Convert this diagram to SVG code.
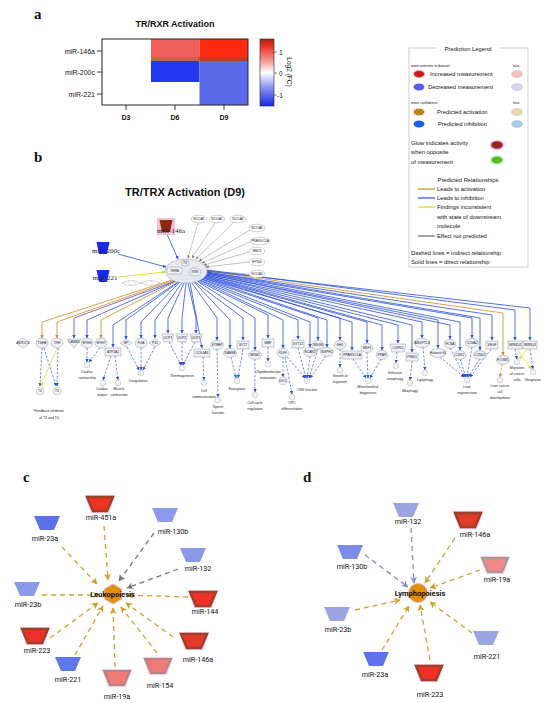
<svg xmlns="http://www.w3.org/2000/svg" width="550" height="703" viewBox="0 0 550 703">
<defs>
<style>
text{font-family:"Liberation Sans",Arial,sans-serif;fill:#111}
.pl{font-family:"Liberation Serif","Times New Roman",serif;font-weight:bold;font-size:15px}
.ax{font-size:7px;text-anchor:end}
.cl{font-size:7px;font-weight:bold;text-anchor:middle}
.lg{font-size:5.8px}
.ls{font-size:3.6px}
.n{fill:#eef1f7;stroke:#8a8a8a;stroke-width:0.45}
.sat{fill:#fff;stroke:#999;stroke-width:0.45}
.g{font-size:3.3px;text-anchor:middle;fill:#222}
.o{font-size:3.5px;text-anchor:middle;fill:#222}
.oc{fill:#f2f4f8;stroke:#999;stroke-width:0.4}
.eb{fill:none;stroke:#2a4ee0;stroke-width:0.8;marker-end:url(#ab)}
.eo{fill:none;stroke:#d08a20;stroke-width:0.8;marker-end:url(#ao)}
.ey{fill:none;stroke:#d8d820;stroke-width:0.8;marker-end:url(#ay)}
.eg{fill:none;stroke:#888;stroke-width:0.5;marker-end:url(#ag)}
.db{fill:none;stroke:#3a5ae0;stroke-width:0.7;stroke-dasharray:2.5 1.5;marker-end:url(#ab)}
.do{fill:none;stroke:#d08a20;stroke-width:0.7;stroke-dasharray:2.5 1.5;marker-end:url(#ao)}
.dy{fill:none;stroke:#d8d820;stroke-width:0.7;marker-end:url(#ay)}
.cd{fill:none;stroke:#d0a030;stroke-width:1.3;stroke-dasharray:5 4;marker-end:url(#ac)}
.cg{fill:none;stroke:#777;stroke-width:1.3;stroke-dasharray:5 4;marker-end:url(#acg)}
.cb{fill:none;stroke:#8090c8;stroke-width:1.3;stroke-dasharray:5 4;marker-end:url(#acb)}
.ml{font-family:Roboto,"Liberation Sans",Arial,sans-serif;font-size:7.2px;text-anchor:middle}
.ctr{font-family:Roboto,"Liberation Sans",Arial,sans-serif;font-size:7.5px;font-weight:bold;text-anchor:middle}
.bm{font-family:"Liberation Serif","Times New Roman",serif;font-size:7px;text-anchor:middle;fill:#222}
</style>
<marker id="ab" viewBox="0 0 10 10" refX="9" refY="5" markerWidth="3.5" markerHeight="3.5" markerUnits="userSpaceOnUse" orient="auto"><path d="M0,0L10,5L0,10z" fill="#2a4ee0"/></marker>
<marker id="ao" viewBox="0 0 10 10" refX="9" refY="5" markerWidth="3.5" markerHeight="3.5" markerUnits="userSpaceOnUse" orient="auto"><path d="M0,0L10,5L0,10z" fill="#d08a20"/></marker>
<marker id="ay" viewBox="0 0 10 10" refX="9" refY="5" markerWidth="3.5" markerHeight="3.5" markerUnits="userSpaceOnUse" orient="auto"><path d="M0,0L10,5L0,10z" fill="#d8d820"/></marker>
<marker id="ag" viewBox="0 0 10 10" refX="9" refY="5" markerWidth="3" markerHeight="3" markerUnits="userSpaceOnUse" orient="auto"><path d="M0,0L10,5L0,10z" fill="#777"/></marker>
<marker id="ac" viewBox="0 0 10 10" refX="9" refY="5" markerWidth="7" markerHeight="7" markerUnits="userSpaceOnUse" orient="auto"><path d="M0,0L10,5L0,10L3,5z" fill="#d0a030"/></marker>
<marker id="acg" viewBox="0 0 10 10" refX="9" refY="5" markerWidth="7" markerHeight="7" markerUnits="userSpaceOnUse" orient="auto"><path d="M0,0L10,5L0,10L3,5z" fill="#777"/></marker>
<marker id="acb" viewBox="0 0 10 10" refX="9" refY="5" markerWidth="7" markerHeight="7" markerUnits="userSpaceOnUse" orient="auto"><path d="M0,0L10,5L0,10L3,5z" fill="#8090c8"/></marker>
<linearGradient id="cbar" x1="0" y1="0" x2="0" y2="1">
<stop offset="0" stop-color="#a02818"/><stop offset="0.1" stop-color="#e83020"/><stop offset="0.3" stop-color="#f08a84"/><stop offset="0.5" stop-color="#ffffff"/><stop offset="0.72" stop-color="#8a96f0"/><stop offset="1" stop-color="#1a28e0"/>
</linearGradient>
<path id="trap" d="M-13,-7H13L7,7H-7Z"/>
<path id="glow" d="M-15,-9H15L9,9H-9Z"/>
<path id="strap" d="M-6.5,-6H6.5L4,6H-4Z"/>
</defs>
<rect width="550" height="703" fill="#fff"/>

<!-- Panel a -->
<g id="panel-a">
<text class="pl" x="34" y="19">a</text>
<text x="175" y="27" font-size="9" font-weight="bold" text-anchor="middle">TR/RXR Activation</text>
<rect x="102" y="39" width="49" height="22" fill="#fff"/>
<rect x="151" y="39" width="48.5" height="22" fill="#f0605a"/>
<rect x="199.5" y="39" width="48.5" height="22" fill="#fd2a10"/>
<rect x="151" y="57" width="48.5" height="4" fill="#b86a50"/>
<rect x="199.5" y="57" width="48.5" height="4" fill="#b84020"/>
<rect x="151" y="61" width="48.5" height="21" fill="#2238f0"/>
<rect x="199.5" y="61" width="48.5" height="21" fill="#5a6ae8"/>
<rect x="199.5" y="82" width="48.5" height="23" fill="#5a6ae8"/>
<rect x="102" y="39" width="146" height="66" fill="none" stroke="#222" stroke-width="1"/>
<g stroke="#222" stroke-width="0.9">
<line x1="97" y1="51" x2="102" y2="51"/><line x1="97" y1="72" x2="102" y2="72"/><line x1="97" y1="94" x2="102" y2="94"/>
<line x1="126" y1="105" x2="126" y2="110"/><line x1="175" y1="105" x2="175" y2="110"/><line x1="224" y1="105" x2="224" y2="110"/>
</g>
<text class="ax" x="95" y="53.5">miR-146a</text>
<text class="ax" x="95" y="74.5">miR-200c</text>
<text class="ax" x="95" y="96.5">miR-221</text>
<text class="cl" x="126" y="120">D3</text>
<text class="cl" x="175" y="120">D6</text>
<text class="cl" x="224" y="120">D9</text>
<rect x="260" y="39" width="14" height="67" fill="url(#cbar)" stroke="#222" stroke-width="0.6"/>
<g stroke="#222" stroke-width="0.6"><line x1="274" y1="52" x2="277" y2="52"/><line x1="274" y1="73" x2="277" y2="73"/><line x1="274" y1="95" x2="277" y2="95"/></g>
<text x="279" y="54.5" font-size="6.5">1</text>
<text x="279" y="75.5" font-size="6.5">0</text>
<text x="277" y="97.5" font-size="6.5">-1</text>
<text x="287" y="72" font-size="6.5" text-anchor="middle" transform="rotate(90 287 72)">Log2 (FC)</text>
</g>

<!-- Legend -->
<g id="legend">
<rect x="409" y="48" width="119" height="219" fill="#fff" stroke="#aaa" stroke-width="0.6"/>
<rect x="437" y="45" width="62" height="6" fill="#fff"/>
<text class="lg" x="468" y="50.5" text-anchor="middle">Prediction Legend</text>
<text class="ls" x="411" y="66.5">more extreme in dataset</text>
<text class="ls" x="513" y="66.5">less</text>
<ellipse cx="419" cy="74" rx="5.5" ry="3.5" fill="#d01818" stroke="#f0a0c0" stroke-width="0.8"/>
<text class="lg" x="430" y="76">Increased measurement</text>
<ellipse cx="517" cy="74" rx="5.5" ry="3.5" fill="#f2c4c0" stroke="#999" stroke-width="0.3"/>
<ellipse cx="419" cy="87" rx="5.5" ry="3.5" fill="#5a5ae8"/>
<text class="lg" x="428" y="89">Decreased measurement</text>
<ellipse cx="517" cy="87" rx="5.5" ry="3.5" fill="#d4d4f4" stroke="#999" stroke-width="0.3"/>
<text class="ls" x="411" y="104">more confidence</text>
<text class="ls" x="513" y="104">less</text>
<ellipse cx="419" cy="112" rx="5.5" ry="3.5" fill="#b8861a"/>
<text class="lg" x="437" y="114">Predicted activation</text>
<ellipse cx="517" cy="112" rx="5.5" ry="3.5" fill="#e8d8a8" stroke="#999" stroke-width="0.3"/>
<ellipse cx="419" cy="124" rx="5.5" ry="3.5" fill="#1a5ef0"/>
<text class="lg" x="438" y="126">Predicted inhibition</text>
<ellipse cx="517" cy="124" rx="5.5" ry="3.5" fill="#a8ccf0" stroke="#999" stroke-width="0.3"/>
<text class="lg" x="411" y="145">Glow indicates activity</text>
<text class="lg" x="411" y="154">when opposite</text>
<text class="lg" x="411" y="163.5">of measurement</text>
<ellipse cx="497" cy="145" rx="6" ry="4" fill="#8a2a10" stroke="#f060c0" stroke-width="1.2"/>
<ellipse cx="497" cy="160" rx="6" ry="4" fill="#60b820" stroke="#a0f0c0" stroke-width="1.2"/>
<text class="lg" x="468" y="182" text-anchor="middle">Predicted Relationships</text>
<line x1="418" y1="189" x2="435" y2="189" stroke="#d08a20" stroke-width="1.2"/>
<text class="lg" x="437" y="191">Leads to activation</text>
<line x1="418" y1="198" x2="435" y2="198" stroke="#2a4ee0" stroke-width="1.2"/>
<text class="lg" x="437" y="200">Leads to inhibition</text>
<line x1="418" y1="207" x2="435" y2="207" stroke="#d8d820" stroke-width="1.2"/>
<text class="lg" x="437" y="209">Findings inconsistent</text>
<text class="lg" x="437" y="218.5">with state of downstream</text>
<text class="lg" x="437" y="228">molecule</text>
<line x1="418" y1="236" x2="435" y2="236" stroke="#666" stroke-width="1.2"/>
<text class="lg" x="437" y="238">Effect not predicted</text>
<text class="lg" x="411" y="255">Dashed lines = indirect relationship</text>
<text class="lg" x="411" y="264">Solid lines = direct relationship</text>
</g>

<!-- Panel b -->
<text class="pl" x="34" y="162">b</text>
<text x="185" y="196" font-size="11" font-weight="bold" text-anchor="middle">TR/TRX Activation (D9)</text>

<g id="connectors-b">
<line class="eb" x1="166" y1="232" x2="178" y2="259"/>
<line class="eb" x1="118" y1="254" x2="166" y2="267"/>
<line class="ey" x1="118" y1="277" x2="165" y2="272"/>
<line class="eg" x1="198" y1="223" x2="188" y2="258"/>
<line class="eg" x1="215" y1="223" x2="192" y2="258"/>
<line class="eg" x1="234" y1="222" x2="196" y2="259"/>
<line class="eg" x1="250" y1="230" x2="199" y2="261"/>
<line class="eg" x1="250" y1="242" x2="202" y2="263"/>
<line class="eg" x1="249" y1="252" x2="204" y2="265"/>
<line class="eg" x1="249" y1="262" x2="206" y2="267"/>
<line class="eg" x1="249" y1="274" x2="207" y2="271"/>
<polyline class="eo" points="172,280 42,322 42,338"/>
<polyline class="eo" points="174,280 57,322 57,338"/>
<polyline class="eb" points="175,281 74,318 74,338" style="stroke:#5048d8"/>
<polyline class="eb" points="176,281 87,320 87,338"/>
<polyline class="eo" points="177,281 101,320 101,338"/>
<polyline class="eb" points="178,282 113,325 113,347"/>
<polyline class="eb" points="179,282 126,320 126,339"/>
<polyline class="eb" points="180,282 141,322 141,338"/>
<polyline class="eb" points="182,283 155,320 155,338"/>
<polyline class="eb" points="184,283 168,318 168,333"/>
<polyline class="eb" points="186,283 182,318 182,333"/>
<polyline class="eb" points="188,283 196,318 196,333"/>
<polyline class="eb" points="190,283 202,348"/>
<polyline class="eb" points="192,283 217,318 217,340"/>
<polyline class="eb" points="194,282 230,320 230,348"/>
<polyline class="eb" points="195,282 243,318 243,340"/>
<polyline class="eb" points="197,281 255,318 255,350"/>
<polyline class="eb" points="198,281 268,315 268,338"/>
<polyline class="eb" points="199,280 283,320 283,348"/>
<polyline class="eb" points="200,280 298,320 298,339"/>
<polyline class="eb" points="201,279 310,322 310,347"/>
<polyline class="eb" points="202,279 318,318 318,340"/>
<polyline class="eb" points="203,278 327,320 327,347"/>
<polyline class="eb" points="204,278 340,318 340,340"/>
<polyline class="eb" points="204,277 352,322 352,350"/>
<polyline class="eb" points="205,277 367,322 367,343"/>
<polyline class="eb" points="205,276 382,325 382,350"/>
<polyline class="eb" points="206,276 398,325 398,343"/>
<polyline class="eb" points="206,275 412,325 412,352"/>
<polyline class="eb" points="206,275 422,322 422,338"/>
<polyline class="eb" points="207,274 438,320 438,348"/>
<polyline class="eb" points="207,274 450,325 450,339"/>
<polyline class="eb" points="207,273 460,322 460,350"/>
<polyline class="eb" points="207,273 472,318 472,338"/>
<polyline class="eb" points="207,272 480,318 480,350"/>
<polyline class="eb" points="207,272 492,315 492,340"/>
<polyline class="eo" points="207,271 503,313 503,355"/>
<polyline class="eb" points="207,270 515,310 515,340"/>
<polyline class="eb" points="207,271 530,308 530,340"/>
<line class="db" x1="42" y1="348" x2="40" y2="386"/>
<line class="db" x1="44" y1="348" x2="56" y2="386"/>
<line class="dy" x1="57" y1="348" x2="41" y2="386"/>
<line class="db" x1="58" y1="348" x2="57" y2="386"/>
<line class="db" x1="87" y1="348" x2="87" y2="362"/>
<line class="db" x1="100" y1="348" x2="89" y2="362"/>
<line class="db" x1="111" y1="356" x2="103" y2="380"/>
<line class="db" x1="115" y1="356" x2="118" y2="380"/>
<line class="db" x1="127" y1="347" x2="139" y2="370"/>
<line class="db" x1="141" y1="348" x2="141" y2="370"/>
<line class="db" x1="155" y1="347" x2="143" y2="370"/>
<line class="db" x1="169" y1="342" x2="181" y2="365"/>
<line class="db" x1="182" y1="342" x2="182" y2="365"/>
<line class="db" x1="195" y1="342" x2="183" y2="365"/>
<line class="db" x1="203" y1="357" x2="204" y2="380"/>
<line class="db" x1="217" y1="349" x2="218" y2="397"/>
<line class="db" x1="231" y1="357" x2="236" y2="378"/>
<line class="db" x1="243" y1="349" x2="238" y2="378"/>
<line class="db" x1="255" y1="359" x2="255" y2="392"/>
<line class="db" x1="268" y1="347" x2="268" y2="361"/>
<line class="db" x1="283" y1="357" x2="283" y2="377"/>
<line class="db" x1="285" y1="357" x2="292" y2="394"/>
<line class="db" x1="287" y1="357" x2="305" y2="378"/>
<line class="db" x1="298" y1="348" x2="306" y2="378"/>
<line class="db" x1="310" y1="356" x2="307" y2="378"/>
<line class="db" x1="318" y1="349" x2="309" y2="378"/>
<line class="db" x1="326" y1="356" x2="310" y2="378"/>
<line class="db" x1="340" y1="349" x2="340" y2="367"/>
<line class="db" x1="353" y1="359" x2="366" y2="378"/>
<line class="db" x1="367" y1="352" x2="368" y2="378"/>
<line class="db" x1="381" y1="359" x2="370" y2="378"/>
<line class="db" x1="397" y1="352" x2="396" y2="363"/>
<line class="db" x1="412" y1="361" x2="410" y2="380"/>
<line class="db" x1="423" y1="347" x2="425" y2="370"/>
<line class="db" x1="440" y1="357" x2="464" y2="377"/>
<line class="db" x1="450" y1="348" x2="465" y2="377"/>
<line class="db" x1="460" y1="359" x2="466" y2="377"/>
<line class="db" x1="472" y1="347" x2="467" y2="377"/>
<line class="db" x1="480" y1="359" x2="468" y2="377"/>
<line class="db" x1="491" y1="349" x2="470" y2="377"/>
<line class="do" x1="502" y1="364" x2="500" y2="377"/>
<line class="db" x1="515" y1="349" x2="517" y2="359"/>
<line class="dy" x1="517" y1="349" x2="531" y2="369"/>
<line class="db" x1="530" y1="349" x2="533" y2="369"/>
<line class="dy" x1="528" y1="349" x2="519" y2="359"/>
</g>

<g id="hub"><ellipse cx="186" cy="271" rx="21" ry="12" fill="#e6ebf2" stroke="#999" stroke-width="0.5"/>
<path d="M168,276 L204,276 M170,279 L202,279 M174,282 L198,282" stroke="#c8ced8" stroke-width="0.4"/>
<rect x="167" y="267" width="15" height="7" rx="2" class="n"/><text class="g" x="174.5" y="271.7">THRB</text>
<ellipse cx="195" cy="272" rx="6" ry="4" class="n"/><text class="g" x="195" y="273.2">RXR</text>
<ellipse cx="185" cy="263" rx="4" ry="3" class="n"/><text class="g" x="185" y="264.2">T3</text></g>
<g id="ribbon"><path d="M122,283 Q131,278 141,283 Q151,288 160,283 Q151,278 141,283 Q131,288 122,283Z" fill="#fff" stroke="#aaa" stroke-width="0.5"/>
<path d="M128,281 L131,285 M134,281 L137,285 M145,281 L148,285 M151,281 L154,285" stroke="#bbb" stroke-width="0.4"/></g>

<g id="b-miR-146a"><rect x="157" y="218" width="18" height="17" fill="#f6c0dc"/><use href="#strap" x="166" y="226" fill="#8b2c10"/><text class="bm" x="171" y="233">miR-146a</text></g>
<g id="b-miR-200c"><use href="#strap" x="103" y="248" fill="#1a2ae8"/><text class="bm" x="106" y="253">miR-200c</text></g>
<g id="b-miR-221"><use href="#strap" x="103" y="276" fill="#1a2ae8"/><text class="bm" x="105" y="280">miR-221</text></g>

<g id="sat-NCOA1"><ellipse class="sat" cx="199" cy="219" rx="8" ry="3.8"/><text class="g" x="199" y="220.2">NCOA1</text></g>
<g id="sat-NCOA2"><ellipse class="sat" cx="217" cy="219" rx="8" ry="3.8"/><text class="g" x="217" y="220.2">NCOA2</text></g>
<g id="sat-NCOA3"><ellipse class="sat" cx="238" cy="219" rx="8" ry="3.8"/><text class="g" x="238" y="220.2">NCOA3</text></g>
<g id="sat-NCOA6"><ellipse class="sat" cx="257" cy="228" rx="8" ry="3.8"/><text class="g" x="257" y="229.2">NCOA6</text></g>
<g id="sat-PPARGC1A"><ellipse class="sat" cx="260" cy="241" rx="10" ry="3.8"/><text class="g" x="260" y="242.2">PPARGC1A</text></g>
<g id="sat-MED1"><ellipse class="sat" cx="257" cy="251" rx="8" ry="3.8"/><text class="g" x="257" y="252.2">MED1</text></g>
<g id="sat-EP300"><ellipse class="sat" cx="257" cy="262" rx="8" ry="3.8"/><text class="g" x="257" y="263.2">EP300</text></g>
<g id="sat-NCOA4"><ellipse class="sat" cx="257" cy="274" rx="8" ry="3.8"/><text class="g" x="257" y="275.2">NCOA4</text></g>

<g id="n-AKR1C3"><path class="n" d="M16,343L23,338L30,343L23,348Z"/><text class="g" x="23" y="344.2">AKR1C3</text></g>
<g id="n-TSHB"><ellipse class="n" cx="42" cy="343" rx="6" ry="5"/><text class="g" x="42" y="344.2">TSHB</text></g>
<g id="n-TRH"><ellipse class="n" cx="57" cy="343" rx="6" ry="5"/><text class="g" x="57" y="344.2">TRH</text></g>
<g id="n-CAMK4"><path class="n" d="M67,339H81L74,348Z"/><text class="g" x="74" y="343">CAMK4</text></g>
<g id="n-MYH6"><ellipse class="n" cx="87" cy="343" rx="6" ry="5"/><text class="g" x="87" y="344.2">MYH6</text></g>
<g id="n-MYH7"><ellipse class="n" cx="101" cy="343" rx="6" ry="5"/><text class="g" x="101" y="344.2">MYH7</text></g>
<g id="n-ATP2A1"><rect class="n" x="105" y="348" width="16" height="8"/><text class="g" x="113" y="353.2">ATP2A1</text></g>
<g id="n-HP"><path class="n" d="M120,343L126,339L132,343L126,347Z"/><text class="g" x="126" y="344.2">HP</text></g>
<g id="n-FGA"><ellipse class="n" cx="141" cy="343" rx="6" ry="5"/><text class="g" x="141" y="344.2">FGA</text></g>
<g id="n-F10"><path class="n" d="M149,343L155,339L161,343L155,347Z"/><text class="g" x="155" y="344.2">F10</text></g>
<g id="n-UCP1"><path class="n" d="M162,334H174L172,342H164Z"/><text class="g" x="168" y="339.2">UCP1</text></g>
<g id="n-UCP2"><path class="n" d="M176,334H188L186,342H178Z"/><text class="g" x="182" y="339.2">UCP2</text></g>
<g id="n-UCP3"><path class="n" d="M190,334H202L200,342H192Z"/><text class="g" x="196" y="339.2">UCP3</text></g>
<g id="n-COL6A3"><rect class="n" x="194" y="349" width="16" height="8"/><text class="g" x="202" y="354.2">COL6A3</text></g>
<g id="n-STRBP"><ellipse class="n" cx="217" cy="345" rx="6.5" ry="4.5"/><text class="g" x="217" y="346.2">STRBP</text></g>
<g id="n-RAB3B"><ellipse class="n" cx="230" cy="353" rx="6.5" ry="4.5"/><text class="g" x="230" y="354.2">RAB3B</text></g>
<g id="n-SYT2"><rect class="n" x="237" y="341" width="12" height="8"/><text class="g" x="243" y="346.2">SYT2</text></g>
<g id="n-MDM2"><ellipse class="n" cx="255" cy="355" rx="6.5" ry="4.5"/><text class="g" x="255" y="356.2">MDM2</text></g>
<g id="n-MBP"><rect class="n" x="262" y="339" width="12" height="8"/><text class="g" x="268" y="344.2">MBP</text></g>
<g id="n-KLF9"><ellipse class="n" cx="283" cy="353" rx="6" ry="4.5"/><text class="g" x="283" y="354.2">KLF9</text></g>
<g id="n-SYT12"><rect class="n" x="292" y="340" width="12" height="8"/><text class="g" x="298" y="345.2">SYT12</text></g>
<g id="n-RCAN2"><ellipse class="n" cx="310" cy="352" rx="6.5" ry="4.5"/><text class="g" x="310" y="353.2">RCAN2</text></g>
<g id="n-NRGN"><ellipse class="n" cx="318" cy="345" rx="6" ry="4.5"/><text class="g" x="318" y="346.2">NRGN</text></g>
<g id="n-NXPH2"><ellipse class="n" cx="327" cy="352" rx="6.5" ry="4.5"/><text class="g" x="327" y="353.2">NXPH2</text></g>
<g id="n-GH1"><ellipse class="n" cx="340" cy="345" rx="6" ry="4.5"/><text class="g" x="340" y="346.2">GH1</text></g>
<g id="n-PPARGC1A"><rect class="n" x="342" y="351" width="20" height="8"/><text class="g" x="352" y="356.2">PPARGC1A</text></g>
<g id="n-NRF1"><ellipse class="n" cx="367" cy="348" rx="6" ry="4.5"/><text class="g" x="367" y="349.2">NRF1</text></g>
<g id="n-PPAR"><ellipse class="n" cx="382" cy="355" rx="6" ry="4.5"/><text class="g" x="382" y="356.2">PPAR</text></g>
<g id="n-CSPK2"><path class="n" d="M390,344H406L404,352H392Z"/><text class="g" x="398" y="349.2">CSPK2</text></g>
<g id="n-PINK1"><rect class="n" x="406" y="353" width="12" height="8"/><text class="g" x="412" y="358.2">PINK1</text></g>
<g id="n-ANGPTL8"><ellipse class="n" cx="422" cy="343" rx="8" ry="4.5"/><text class="g" x="422" y="344.2">ANGPTL8</text></g>
<g id="n-HistoneH3"><ellipse class="n" cx="438" cy="353" rx="8" ry="4.5"/><text class="g" x="438" y="354.2">Histone h3</text></g>
<g id="n-PCNA"><ellipse class="n" cx="450" cy="344" rx="6" ry="4.5"/><text class="g" x="450" y="345.2">PCNA</text></g>
<g id="n-CDK2"><ellipse class="n" cx="460" cy="355" rx="6" ry="4.5"/><text class="g" x="460" y="356.2">CDK2</text></g>
<g id="n-CCNA2"><ellipse class="n" cx="472" cy="343" rx="6.5" ry="4.5"/><text class="g" x="472" y="344.2">CCNA2</text></g>
<g id="n-CCND1"><ellipse class="n" cx="480" cy="355" rx="6.5" ry="4.5"/><text class="g" x="480" y="356.2">CCND1</text></g>
<g id="n-VEGF"><rect class="n" x="486" y="341" width="12" height="8"/><text class="g" x="492" y="346.2">VEGF</text></g>
<g id="n-FOXM1"><ellipse class="n" cx="503" cy="360" rx="6.5" ry="4.5"/><text class="g" x="503" y="361.2">FOXM1</text></g>
<g id="n-MIR424"><rect class="n" x="508" y="341" width="14" height="8"/><text class="g" x="515" y="346.2">MIR424</text></g>
<g id="n-MIR503"><rect class="n" x="523" y="341" width="14" height="8"/><text class="g" x="530" y="346.2">MIR503</text></g>

<g id="f-T4"><circle class="oc" cx="40" cy="391" r="4"/><text class="g" x="40" y="392.2">T4</text></g>
<g id="f-T3"><circle class="oc" cx="57" cy="391" r="4"/><text class="g" x="57" y="392.2">T3</text></g>
<g id="f-feedback"><text class="o" x="49" y="412">Feedback inhibition</text><text class="o" x="49" y="418.5">of T3 and T4</text></g>
<g id="f-cardiaccontr"><circle class="oc" cx="87" cy="365" r="2.8"/><text class="o" x="87" y="373">Cardiac</text><text class="o" x="87" y="379">contractility</text></g>
<g id="f-cardiacout"><circle class="oc" cx="103" cy="383" r="2.8"/><text class="o" x="102" y="390">Cardiac</text><text class="o" x="102" y="396">output</text></g>
<g id="f-muscle"><circle class="oc" cx="118" cy="383" r="2.8"/><text class="o" x="119" y="390">Muscle</text><text class="o" x="119" y="396">contraction</text></g>
<g id="f-coag"><circle class="oc" cx="141" cy="373" r="2.8"/><text class="o" x="138" y="382">Coagulation</text></g>
<g id="f-thermo"><circle class="oc" cx="182" cy="368" r="2.8"/><text class="o" x="182" y="376.5">Thermogenesis</text></g>
<g id="f-cellcomm"><circle class="oc" cx="204" cy="383" r="2.8"/><text class="o" x="204" y="392">Cell</text><text class="o" x="204" y="398">communication</text></g>
<g id="f-sperm"><circle class="oc" cx="218" cy="400" r="2.8"/><text class="o" x="218" y="408">Sperm</text><text class="o" x="218" y="414">function</text></g>
<g id="f-exo"><circle class="oc" cx="237" cy="381" r="2.8"/><text class="o" x="237" y="390">Exocytosis</text></g>
<g id="f-cellcycle"><circle class="oc" cx="255" cy="395" r="2.8"/><text class="o" x="255" y="403.5">Cell cycle</text><text class="o" x="255" y="409.5">regulation</text></g>
<g id="f-olig"><circle class="oc" cx="268" cy="364" r="2.8"/><text class="o" x="268" y="372.5">Oligodendrocyte</text><text class="o" x="268" y="378.5">maturation</text></g>
<g id="f-DIO1"><circle class="oc" cx="283" cy="381" r="4"/><text class="g" x="283" y="382.2">DIO1</text></g>
<g id="f-opc"><circle class="oc" cx="292" cy="397" r="2.8"/><text class="o" x="292" y="404">OPC</text><text class="o" x="292" y="410">differentiation</text></g>
<g id="f-cns"><circle class="oc" cx="307" cy="381" r="2.8"/><text class="o" x="307" y="390.5">CNS function</text></g>
<g id="f-growth"><circle class="oc" cx="340" cy="370" r="2.8"/><text class="o" x="340" y="377">Growth of</text><text class="o" x="340" y="383">organism</text></g>
<g id="f-mito"><circle class="oc" cx="368" cy="381" r="2.8"/><text class="o" x="368" y="388">Mitochondrial</text><text class="o" x="368" y="394">biogenesis</text></g>
<g id="f-selauto"><circle class="oc" cx="396" cy="366" r="2.8"/><text class="o" x="395" y="374">Selective</text><text class="o" x="395" y="380">autophagy</text></g>
<g id="f-mitophagy"><circle class="oc" cx="410" cy="383" r="2.8"/><text class="o" x="410" y="392">Mitophagy</text></g>
<g id="f-lipophagy"><circle class="oc" cx="425" cy="373" r="2.8"/><text class="o" x="425" y="381">Lipophagy</text></g>
<g id="f-liverregen"><circle class="oc" cx="467" cy="380" r="2.8"/><text class="o" x="467" y="388">Liver</text><text class="o" x="467" y="394">regeneration</text></g>
<g id="f-livercancer"><circle class="oc" cx="500" cy="380" r="2.8"/><text class="o" x="500" y="386.5">Liver cancer</text><text class="o" x="500" y="392.5">cell</text><text class="o" x="500" y="398.5">development</text></g>
<g id="f-migration"><circle class="oc" cx="517" cy="362" r="2.8"/><text class="o" x="517" y="369">Migration</text><text class="o" x="517" y="375">of cancer</text><text class="o" x="517" y="381">cells</text></g>
<g id="f-neoplasia"><circle class="oc" cx="533" cy="372" r="2.8"/><text class="o" x="533" y="381">Neoplasia</text></g>

<!-- Panel c -->
<text class="pl" x="23" y="482">c</text>
<g id="connectors-c">
<line class="cd" x1="104" y1="526" x2="108" y2="580"/>
<line class="cg" x1="154" y1="533" x2="119" y2="581"/>
<line class="cd" x1="62" y1="547" x2="97" y2="584"/>
<line class="cg" x1="178" y1="569" x2="127" y2="588"/>
<line class="cd" x1="42" y1="595" x2="99" y2="595"/>
<line class="cd" x1="188" y1="597" x2="127" y2="595"/>
<line class="cd" x1="50" y1="638" x2="98" y2="603"/>
<line class="cd" x1="173" y1="637" x2="126" y2="603"/>
<line class="cd" x1="75" y1="655" x2="103" y2="606"/>
<line class="cd" x1="157" y1="653" x2="121" y2="607"/>
<line class="cd" x1="115" y1="667" x2="113" y2="608"/>
</g>
<g id="c-center"><path d="M113,584L121.7,589V599L113,604L104.3,599V589Z" fill="#e0900a" stroke="#f4b4d0" stroke-width="1"/><text class="ctr" x="112.5" y="597">Leukopoiesis</text></g>
<g id="c-miR-451a"><use href="#glow" x="100" y="504" fill="#f8c8e0"/><use href="#trap" x="100" y="504" fill="#ee3324" stroke="#a04028" stroke-width="2.5"/><text class="ml" x="101" y="520">miR-451a</text></g>
<g id="c-miR-130b"><use href="#trap" x="165" y="515" fill="#8c9aec"/><text class="ml" x="173" y="534">miR-130b</text></g>
<g id="c-miR-23a"><use href="#trap" x="47" y="523" fill="#5c70ea"/><text class="ml" x="45" y="541">miR-23a</text></g>
<g id="c-miR-132"><use href="#trap" x="193" y="555" fill="#8a98ea"/><text class="ml" x="198" y="571">miR-132</text></g>
<g id="c-miR-23b"><use href="#trap" x="27" y="589" fill="#8a9aea"/><text class="ml" x="28" y="607">miR-23b</text></g>
<g id="c-miR-144"><use href="#glow" x="203" y="599" fill="#f8c8e0"/><use href="#trap" x="203" y="599" fill="#f03028" stroke="#a04028" stroke-width="2.5"/><text class="ml" x="205" y="614">miR-144</text></g>
<g id="c-miR-223"><use href="#glow" x="35" y="636" fill="#f8c8e0"/><use href="#trap" x="35" y="636" fill="#f03028" stroke="#a04028" stroke-width="2.5"/><text class="ml" x="37" y="653">miR-223</text></g>
<g id="c-miR-146a"><use href="#glow" x="194" y="641" fill="#f8c8e0"/><use href="#trap" x="194" y="641" fill="#e03a2a" stroke="#a04028" stroke-width="2.5"/><text class="ml" x="198" y="662">miR-146a</text></g>
<g id="c-miR-221"><use href="#trap" x="68" y="664" fill="#5c78ea"/><text class="ml" x="68" y="682">miR-221</text></g>
<g id="c-miR-154"><use href="#glow" x="158" y="666" fill="#f8d0e4"/><use href="#trap" x="158" y="666" fill="#f07a78" stroke="#b08480" stroke-width="2"/><text class="ml" x="160" y="688">miR-154</text></g>
<g id="c-miR-19a"><use href="#glow" x="117" y="678" fill="#f8d0e4"/><use href="#trap" x="117" y="678" fill="#f07a78" stroke="#b08480" stroke-width="2"/><text class="ml" x="117" y="699">miR-19a</text></g>

<!-- Panel d -->
<text class="pl" x="303" y="482">d</text>
<g id="connectors-d">
<line class="cb" x1="411" y1="528" x2="414" y2="583"/>
<line class="cd" x1="455" y1="538" x2="425" y2="583"/>
<line class="cb" x1="365" y1="555" x2="408" y2="587"/>
<line class="cd" x1="480" y1="570" x2="430" y2="588"/>
<line class="cd" x1="355" y1="610" x2="400" y2="600"/>
<line class="cd" x1="472" y1="633" x2="430" y2="602"/>
<line class="cd" x1="382" y1="650" x2="409" y2="606"/>
<line class="cd" x1="430" y1="660" x2="420" y2="605"/>
</g>
<g id="d-center"><circle cx="418" cy="593" r="9.5" fill="#e0900a" stroke="#f4b4d0" stroke-width="1"/><text class="ctr" x="420" y="596">Lymphopoiesis</text></g>
<g id="d-miR-132"><use href="#trap" x="406" y="510" fill="#9aa4e0"/><text class="ml" x="408" y="524">miR-132</text></g>
<g id="d-miR-146a"><use href="#glow" x="468" y="520" fill="#f8b8d8"/><use href="#trap" x="468" y="520" fill="#e03a2a" stroke="#a04028" stroke-width="2.5"/><text class="ml" x="475" y="537">miR-146a</text></g>
<g id="d-miR-130b"><use href="#trap" x="350" y="552" fill="#7c8ae8"/><text class="ml" x="352" y="569">miR-130b</text></g>
<g id="d-miR-19a"><use href="#glow" x="495" y="565" fill="#f8d0e4"/><use href="#trap" x="495" y="565" fill="#f08a88" stroke="#a89898" stroke-width="2"/><text class="ml" x="497" y="582">miR-19a</text></g>
<g id="d-miR-23b"><use href="#trap" x="337" y="614" fill="#9aa4e4"/><text class="ml" x="338" y="632">miR-23b</text></g>
<g id="d-miR-221"><use href="#trap" x="486" y="638" fill="#9aa4e0"/><text class="ml" x="487" y="659">miR-221</text></g>
<g id="d-miR-23a"><use href="#trap" x="376" y="659" fill="#6070ea"/><text class="ml" x="375" y="677">miR-23a</text></g>
<g id="d-miR-223"><use href="#glow" x="429" y="673" fill="#f8c8e0"/><use href="#trap" x="429" y="673" fill="#f03028" stroke="#a04028" stroke-width="2.5"/><text class="ml" x="430" y="697">miR-223</text></g>
</svg>
